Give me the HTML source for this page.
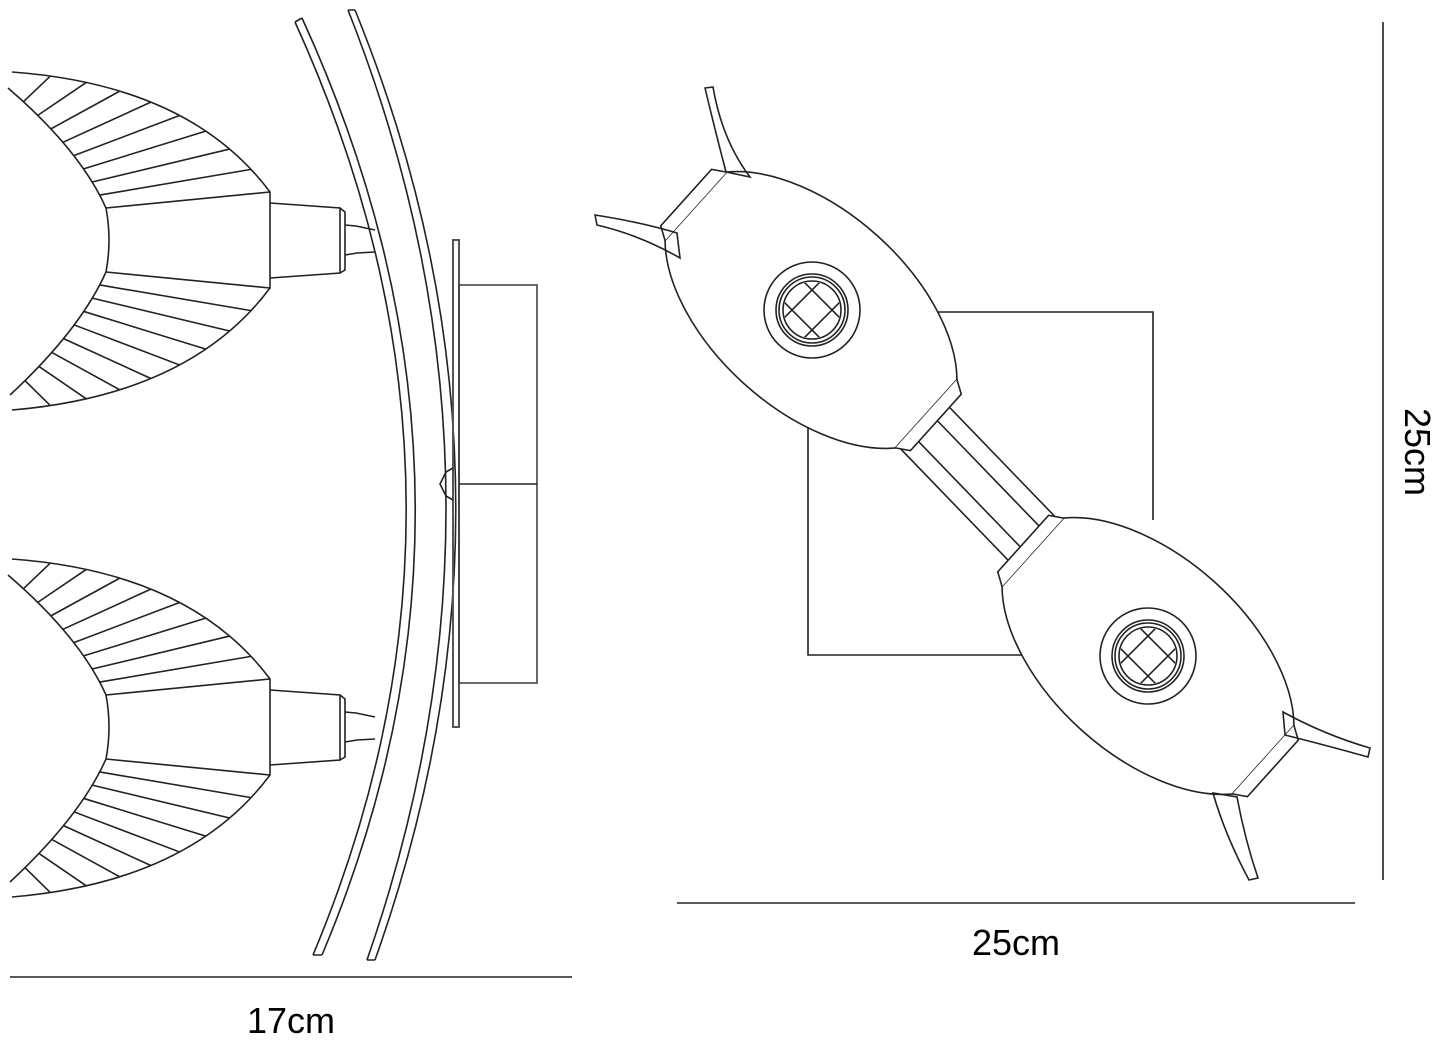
<!DOCTYPE html>
<html><head><meta charset="utf-8"><style>
html,body{margin:0;padding:0;background:#fff}
svg{display:block}
text{font-family:"Liberation Sans",sans-serif;fill:#000}
</style></head><body>
<svg id="s" width="1445" height="1042" viewBox="0 0 1445 1042" xmlns="http://www.w3.org/2000/svg">
<defs>
<g id="shade">
<path d="M12,72 Q190,85 270,192 L270,288 Q190,395 12,410"/>
<path d="M8,88 Q80,150 106,208 Q112,240 106,272 Q80,330 10,395"/>
<path d="M106,208 L270,192 M106,272 L270,288"/>
<path d="M270,203 L340,208 L340,273 L270,278"/>
<path d="M340,208 L345,212 L345,270 L340,273"/>
<path d="M345,225 L356,226 L375,230 M345,255 L357,253 L375,252"/>
</g>
<g id="lens">
<path d="M-155,-46 A175,100 0 0,1 155,-46 L155,46 A175,100 0 0,1 -155,46 Z"/>
<path d="M-155,-46 L-168,-38 L-168,38 L-155,46"/>
<path d="M155,-46 L168,-38 L168,38 L155,46"/>
</g>
<clipPath id="hc"><circle r="28"/></clipPath>
</defs>
<g fill="none" stroke="#222" stroke-width="1.6">
<use href="#shade"/>
<use href="#shade" transform="translate(0,487)"/>
<g id="ribs"></g>
<!-- arcs -->
<path d="M295,22 Q508,490 313,955"/>
<path d="M302,18 Q518,490 322,955"/>
<path d="M348,10 Q534,480 367,960"/>
<path d="M355,10 Q546,480 375,960"/>
<path d="M295,22 L302,18 M313,955 L322,955 M348,10 L355,10 M367,960 L375,960"/>
<!-- plate -->
<rect x="453" y="240" width="6" height="487" stroke="#555" stroke-width="2"/>
<rect x="459" y="285" width="78" height="398" stroke="#444"/>
<line x1="459" y1="484" x2="537" y2="484"/>
<path d="M453,468 L446,472 L440,484 L446,496 L453,500"/>
<!-- dimension lines -->
<line x1="10" y1="977" x2="572" y2="977"/>
<line x1="677" y1="903" x2="1355" y2="903"/>
<line x1="1383" y1="22" x2="1383" y2="880"/>
<!-- back square -->
<path d="M927,312 L1153,312 L1153,520 M808,425 L808,655 L1035,655"/>
<!-- bar -->
<g transform="translate(811,310) rotate(46)">
<path d="M140,-32 L345,-32 M140,32 L345,32 M168,-14 L315,-14 M168,14 L315,14"/>
</g>
<g transform="translate(811,310) rotate(42)" fill="#fff"><use href="#lens"/></g>
<g transform="translate(1148,656) rotate(42)" fill="#fff"><use href="#lens"/></g>
<g transform="translate(812,310)"><circle r="48"/><circle r="36"/><circle r="33"/><circle r="29"/>
<g clip-path="url(#hc)"><path d="M-30,-10 L10,30 M-10,-30 L30,10 M-30,10 L10,-30 M-10,30 L30,-10"/></g></g>
<g transform="translate(1148,656)"><circle r="48"/><circle r="36"/><circle r="33"/><circle r="29"/>
<g clip-path="url(#hc)"><path d="M-30,-10 L10,30 M-10,-30 L30,10 M-30,10 L10,-30 M-10,30 L30,-10"/></g></g>
<!-- spikes -->
<path d="M705,88 L713,87 Q722,140 750,177 L726,172 Q715,130 705,88 Z"/>
<path d="M595,215 L597,225 Q640,235 680,258 L677,233 Q640,222 595,215 Z"/>
<path d="M1370,748 L1368,757 Q1325,745 1285,735 L1283,712 Q1325,735 1370,748 Z"/>
<path d="M1258,878 L1249,880 Q1225,835 1213,793 L1237,797 Q1245,840 1258,878 Z"/>
</g>
<text x="291" y="1033" font-size="36" text-anchor="middle">17cm</text>
<text x="1016" y="955" font-size="36" text-anchor="middle">25cm</text>
<text x="1405" y="452" font-size="36" text-anchor="middle" transform="rotate(90 1405 452)">25cm</text>
</svg>
<script>
(function(){
var g=document.getElementById('ribs'),ns='http://www.w3.org/2000/svg',s='';
function q(p0,p1,p2,t){var u=1-t;return [u*u*p0[0]+2*u*t*p1[0]+t*t*p2[0],u*u*p0[1]+2*u*t*p1[1]+t*t*p2[1]];}
[0,487].forEach(function(dy){
 for(var i=1;i<=8;i++){var t=i/9;
  var a=q([8,88+dy],[80,150+dy],[106,208+dy],t);
  var b=q([12,72+dy],[190,85+dy],[270,192+dy],t);
  s+='M'+a[0]+','+a[1]+' L'+b[0]+','+b[1]+' ';}
 for(var i=1;i<=8;i++){var t=i/9;
  var a=q([10,395+dy],[80,330+dy],[106,272+dy],t);
  var b=q([12,410+dy],[190,395+dy],[270,288+dy],t);
  s+='M'+a[0]+','+a[1]+' L'+b[0]+','+b[1]+' ';}
});
var p=document.createElementNS(ns,'path');p.setAttribute('d',s);g.appendChild(p);
})();
</script>
</body></html>
